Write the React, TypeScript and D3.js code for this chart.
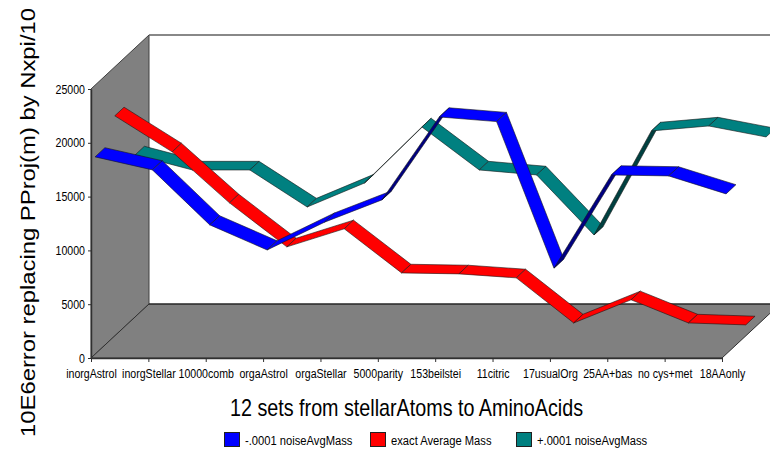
import React, { useEffect, useRef } from "react";
import { axisBottom, axisLeft, range, scaleLinear, scalePoint, select } from "d3";

const categories = [
  "inorgAstrol",
  "inorgStellar",
  "10000comb",
  "orgaAstrol",
  "orgaStellar",
  "5000parity",
  "153beilstei",
  "11citric",
  "17usualOrg",
  "25AA+bas",
  "no cys+met",
  "18AAonly",
];
const yTicks = [0, 5000, 10000, 15000, 20000, 25000];

const lowNoise = [18340, 17130, 12020, 9690, 12270, 14340, 22050, 21620, 8000, 16660, 16570, 14900];
const exactMass = [20450, 17100, 12360, 8270, 9950, 5850, 5760, 5390, 1200, 3350, 1200, 1020];
const highNoise = [15060, 13660, 13660, 10220, 12450, 17660, 13660, 13200, 7620, 17290, 17750, 16730];

const series = [
  { name: "-.0001 noiseAvgMass", values: lowNoise, color: "#0000ff", under: "#000080", depth: [0.07, 0.24], legendX: 224 },
  { name: "exact Average Mass", values: exactMass, color: "#ff0000", under: "#800000", depth: [0.41, 0.57], legendX: 370 },
  { name: "+.0001 noiseAvgMass", values: highNoise, color: "#008080", under: "#004040", depth: [0.76, 0.92], legendX: 516 },
];

const DX = 58;
const DY = -54;
const FONT = "'Liberation Sans', Arial, sans-serif";

const x = scalePoint<string>().domain(categories).range([91, 722]);
const y = scaleLinear().domain([0, 25000]).range([358, 89]);

// oblique projection: d=0 on the front plane, d=1 on the back wall
const project = (cat: string, v: number, d: number): [number, number] => [
  (x(cat) as number) + DX * d,
  y(v) + DY * d,
];

function ribbons(s: (typeof series)[number]) {
  return range(categories.length - 1).map((i) => {
    const a = project(categories[i], s.values[i], s.depth[0]);
    const b = project(categories[i + 1], s.values[i + 1], s.depth[0]);
    const c = project(categories[i + 1], s.values[i + 1], s.depth[1]);
    const e = project(categories[i], s.values[i], s.depth[1]);
    // the sign of the quad's area says whether we see the top or the underside
    const cross = (b[0] - a[0]) * (e[1] - a[1]) - (b[1] - a[1]) * (e[0] - a[0]);
    return { points: [a, b, c, e].join(" "), fill: cross < 0 ? s.color : s.under };
  });
}

// the reference text is tall and narrow: keep the width of the small size, draw it bigger
function condense(sel: any, measureSize: number, drawSize: number) {
  sel.attr("font-size", measureSize).each(function (this: SVGTextElement) {
    this.setAttribute("textLength", String(this.getComputedTextLength()));
    this.setAttribute("lengthAdjust", "spacingAndGlyphs");
  });
  sel.attr("font-size", drawSize);
}

export default function App() {
  const xAxisRef = useRef<SVGGElement>(null);
  const yAxisRef = useRef<SVGGElement>(null);
  const legendRef = useRef<SVGGElement>(null);

  useEffect(() => {
    const style = (g: any) => {
      g.selectAll("text").attr("font-family", FONT).attr("fill", "#000");
      condense(g.selectAll("text"), 10.6, 12.5);
      g.selectAll("line,path").attr("stroke", "#303030");
      g.select(".domain").attr("stroke-width", 1.5);
    };
    select(xAxisRef.current)
      .attr("transform", "translate(0,358)")
      .call(axisBottom(x).tickSize(4).tickPadding(7).tickSizeOuter(0) as any)
      .call(style);
    select(yAxisRef.current)
      .attr("transform", "translate(91,0)")
      .call(axisLeft(y).tickValues(yTicks).tickFormat((d) => String(d)).tickSize(3).tickPadding(3).tickSizeOuter(0) as any)
      .call(style);
    condense(select(legendRef.current).selectAll("text"), 11.2, 12.5);
  }, []);

  const [x0, x1] = x.range();
  const [y0, y1] = y.range();

  return (
    <svg width={770} height={451} style={{ position: "absolute", left: 0, top: 0 }}>
      <rect width={770} height={451} fill="#fff" />
      <polygon points={`${x0},${y0} ${x0},${y1} ${x0 + DX},${y1 + DY} ${x0 + DX},${y0 + DY}`} fill="#808080" stroke="#404040" />
      <polygon points={`${x0},${y0} ${x1},${y0} ${x1 + DX},${y0 + DY} ${x0 + DX},${y0 + DY}`} fill="#808080" stroke="#303030" />
      <line x1={x0 + DX} x2={x1 + DX} y1={y1 + DY} y2={y1 + DY} stroke="#606060" strokeWidth={1.5} />
      <line x1={x0 + DX} x2={x1 + DX} y1={y0 + DY} y2={y0 + DY} stroke="#202020" strokeWidth={1.2} />

      {[...series].reverse().map((s) => (
        <g key={s.name}>
          {ribbons(s).map((r, i) => (
            <polygon key={i} points={r.points} fill={r.fill} stroke="#181818" strokeWidth={0.6} strokeLinejoin="round" />
          ))}
        </g>
      ))}

      <g ref={xAxisRef} />
      <g ref={yAxisRef} />

      <text x={230} y={416} textLength={353} lengthAdjust="spacingAndGlyphs" fontFamily={FONT} fontSize={24}>
        12 sets from stellarAtoms to AminoAcids
      </text>
      <text
        transform="translate(35,437) rotate(-90)"
        textLength={429}
        lengthAdjust="spacingAndGlyphs"
        fontFamily={FONT}
        fontSize={21}
      >
        10E6error replacing PProj(m) by Nxpi/10
      </text>

      <g ref={legendRef}>
        {series.map((s) => (
          <g key={s.name} transform={`translate(${s.legendX},432)`}>
            <rect x={0.5} y={0.5} width={15} height={14} fill={s.color} stroke="#202020" />
            <text x={21} y={13} fontFamily={FONT} fontSize={11.2}>
              {s.name}
            </text>
          </g>
        ))}
      </g>
    </svg>
  );
}
